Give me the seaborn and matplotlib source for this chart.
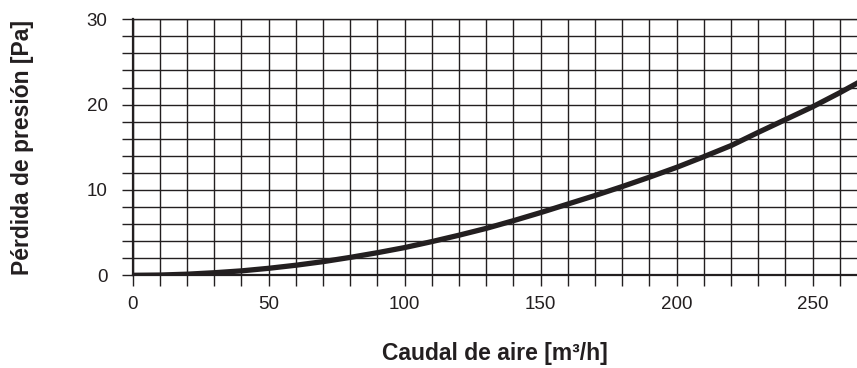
import matplotlib
matplotlib.use("Agg")
import matplotlib.pyplot as plt
import matplotlib.ticker as ticker
import pandas as pd
import seaborn as sns

# Curve
caudal = [0, 10, 20, 30, 40, 50, 60, 70, 80, 90, 100, 110, 120, 130, 140,
          150, 160, 170, 180, 190, 200, 210, 220, 230, 240, 250, 260, 268]
perdida = [0, 0.03, 0.13, 0.3, 0.52, 0.82, 1.18, 1.6, 2.1, 2.65, 3.25, 3.95,
           4.7, 5.5, 6.4, 7.35, 8.35, 9.35, 10.4, 11.5, 12.65, 13.9, 15.2,
           16.75, 18.25, 19.75, 21.4, 22.8]

x_ticks = [0, 50, 100, 150, 200, 250]
y_ticks = [0, 10, 20, 30]

df = pd.DataFrame({'caudal': caudal, 'perdida': perdida})

sns.set_theme(style="ticks")
plt.rcParams['font.family'] = ['Liberation Sans', 'DejaVu Sans']

ink = '#231f20'
fig = plt.figure(figsize=(8.57, 3.68), dpi=100)
ax = fig.add_axes([0.1548, 0.2519, 0.8452, 0.6957])

sns.lineplot(data=df, x='caudal', y='perdida', ax=ax, color=ink, lw=3.8,
             zorder=5)

ax.set_xlim(0, 266.3)
ax.set_ylim(0, 30)
ax.xaxis.set_major_locator(ticker.FixedLocator(x_ticks))
ax.xaxis.set_minor_locator(ticker.MultipleLocator(10))
ax.yaxis.set_major_locator(ticker.FixedLocator(y_ticks))
ax.yaxis.set_minor_locator(ticker.MultipleLocator(2))

ax.grid(which='both', color=ink, lw=1.0)
ax.set_axisbelow(True)

ax.tick_params(which='both', direction='out', length=8, width=1.0, color=ink,
               labelsize=13.5, labelcolor=ink)
ax.tick_params(axis='y', pad=10)
ax.tick_params(axis='x', pad=7)

ax.spines['right'].set_visible(False)
ax.spines['top'].set_linewidth(1.0)
ax.spines['top'].set_color(ink)
for side in ['left', 'bottom']:
    ax.spines[side].set_linewidth(1.6)
    ax.spines[side].set_color(ink)

ax.set_xlabel('Caudal de aire [m³/h]', fontsize=16.5, fontweight='bold',
              color=ink, labelpad=21)
ax.set_ylabel('Pérdida de presión [Pa]', fontsize=16.5, fontweight='bold',
              color=ink, labelpad=38)

fig.savefig('out.png', dpi=100)
